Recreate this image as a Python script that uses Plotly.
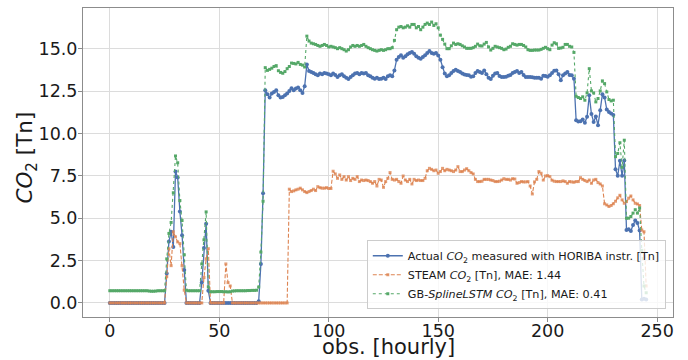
import plotly.graph_objects as go

obs = list(range(246))

actual_co2 = [
    0, 0, 0, 0, 0, 0, 0, 0, 0, 0,
    0, 0, 0, 0, 0, 0, 0, 0, 0, 0,
    0, 0, 0, 0, 0, 0, 1.73, 3.63, 4.2, 3.3,
    7.75, 7.4, 5.4, 4.0, 1.95, 0, 0, 0, 0, 0,
    0, 0, 1.2, 3.24, 4.67, 0.72, 0, 0, 0, 0,
    0, 0, 0, 0, 0, 0, 0, 0, 0, 0,
    0, 0, 0, 0, 0, 0, 0, 0, 0.1, 2.3,
    6.47, 12.55, 12.31, 12.12, 12.35, 12.45, 12.55, 12.25, 12.12, 12.15,
    12.25, 12.35, 12.5, 12.67, 12.55, 12.65, 12.71, 12.55, 12.39, 12.78,
    14.06, 13.68, 13.63, 13.57, 13.49, 13.43, 13.53, 13.49, 13.57, 13.53,
    13.49, 13.43, 13.53, 13.45, 13.33, 13.43, 13.49, 13.37, 13.29, 13.21,
    13.33, 13.43, 13.53, 13.57, 13.49, 13.57, 13.53, 13.57, 13.43, 13.37,
    13.29, 13.23, 13.29, 13.21, 13.23, 13.29, 13.21, 13.37, 13.43, 13.37,
    13.72, 14.35, 14.51, 14.61, 14.47, 14.55, 14.67, 14.74, 14.8, 14.7,
    14.55, 14.47, 14.41, 14.51, 14.61, 14.74, 14.86, 14.74, 14.7, 14.74,
    14.6, 14.35, 13.9, 13.53, 13.37, 13.43, 13.57, 13.69, 13.76, 13.69,
    13.63, 13.53, 13.47, 13.45, 13.43, 13.35, 13.37, 13.57, 13.69, 13.63,
    13.57, 13.72, 13.49, 13.29, 13.21, 13.41, 13.53, 13.57, 13.39, 13.33,
    13.33, 13.35, 13.41, 13.45, 13.57, 13.63, 13.69, 13.57, 13.63, 13.45,
    13.33, 13.33, 13.33, 13.31, 13.29, 13.29, 13.29, 13.23, 13.41, 13.39,
    13.35, 13.43, 13.57, 13.7, 13.72, 13.49, 13.14, 13.43, 13.53, 13.63,
    13.45, 13.43, 13.23, 10.78, 10.7, 10.72, 10.82, 10.63, 10.98, 12.25,
    11.14, 10.68, 11.0, 10.49, 11.37, 12.31, 12.12, 11.41, 11.27, 11.17,
    11.08, 7.88, 7.5, 8.39, 7.5, 8.4, 4.31, 4.35, 4.25, 4.6,
    4.86, 4.72, 4.27, 0.2, 0.25, 0.2,
]

steam_co2 = [
    0, 0, 0, 0, 0, 0, 0, 0, 0, 0,
    0, 0, 0, 0, 0, 0, 0, 0, 0, 0,
    0, 0, 0, 0, 0, 0, 1.55, 3.2, 2.2, 4.2,
    3.9, 3.6, 3.5, 2.2, 0.75, 0, 0, 0, 0, 0,
    0, 0, 0, 1.5, 2.6, 3.2, 0, 0, 0, 0,
    0, 0, 0, 2.3, 1.2, 1.0, 0, 0, 0, 0,
    0, 0, 0, 0, 0, 0, 0, 0, 0, 0,
    0, 0, 0, 0, 0, 0, 0, 0, 0, 0,
    0, 0, 6.71, 6.57, 6.61, 6.67, 6.71, 6.77, 6.67, 6.57,
    6.51, 6.57, 6.63, 6.71, 6.63, 6.86, 6.80, 6.77, 6.77, 6.80,
    6.75, 6.75, 7.77, 7.61, 7.35, 7.55, 7.29, 7.45, 7.25, 7.45,
    7.22, 7.35, 7.29, 7.45, 7.16, 7.25, 7.22, 7.25, 7.22, 7.16,
    7.06, 7.16, 6.90, 7.29, 7.25, 6.82, 7.16, 7.35, 7.69, 7.29,
    7.25, 7.29, 7.16, 7.06, 7.49, 7.25, 7.16, 7.29, 7.02, 7.29,
    7.22, 7.25, 7.22, 7.22, 7.35, 7.80, 7.94, 7.88, 7.80, 7.84,
    7.65, 7.75, 7.94, 7.80, 7.88, 7.84, 7.80, 7.75, 7.84, 8.04,
    7.75, 7.75, 7.84, 7.92, 7.80, 7.69, 7.61, 7.29, 7.16, 7.16,
    7.18, 7.29, 7.29, 7.29, 7.25, 7.22, 7.16, 7.16, 7.18, 7.25,
    7.33, 7.29, 7.29, 7.25, 7.33, 7.31, 7.06, 7.10, 7.16, 7.14,
    7.14, 7.16, 6.90, 6.43, 7.14, 7.29, 7.75, 7.65, 7.25, 7.49,
    7.51, 7.45, 7.24, 7.18, 7.16, 7.16, 7.16, 7.20, 7.16, 7.06,
    7.16, 7.14, 7.12, 7.16, 7.16, 7.39, 7.29, 7.22, 7.16, 7.25,
    7.06, 7.25, 7.29, 7.10, 7.02, 6.9, 5.85, 5.78, 5.69, 5.75,
    5.85, 6.0, 6.2, 6.35, 6.08, 5.88, 5.98, 6.18, 6.31, 6.08,
    5.88, 5.84, 5.75, 4.3, 4.2, 1.0,
]

gb_spline_lstm_co2 = [
    0.72, 0.72, 0.72, 0.72, 0.72, 0.72, 0.72, 0.72, 0.72, 0.72,
    0.72, 0.72, 0.72, 0.72, 0.72, 0.72, 0.72, 0.72, 0.7, 0.69,
    0.69, 0.7, 0.72, 0.72, 0.72, 0.72, 2.6, 4.1, 4.75, 6.5,
    8.67, 8.27, 6.04, 4.86, 2.84, 0.75, 0.72, 0.72, 0.72, 0.72,
    0.72, 0.72, 2.3, 3.72, 5.37, 0.95, 0.66, 0.66, 0.66, 0.67,
    0.67, 0.67, 0.66, 0.66, 0.65, 0.66, 0.7, 0.71, 0.72, 0.72,
    0.72, 0.72, 0.72, 0.73, 0.73, 0.74, 0.74, 0.75, 0.94, 3.0,
    6.0, 13.88, 13.72, 13.78, 13.85, 13.95, 14.0, 13.7, 13.6, 13.55,
    13.65, 13.82, 13.95, 14.15, 14.13, 14.1, 14.19, 14.07, 14.03, 13.92,
    15.74, 15.45, 15.33, 15.29, 15.25, 15.19, 15.14, 15.19, 15.25, 15.19,
    15.1, 15.14, 15.1, 15.06, 15.0, 15.06, 15.0, 14.94, 14.86, 14.94,
    15.1, 15.19, 15.14, 15.19, 15.14, 15.19, 15.25, 15.14, 15.06, 15.0,
    14.94, 14.9, 14.86, 14.9, 14.94, 14.9, 14.94, 15.0, 15.0, 15.06,
    15.49, 16.12, 16.27, 16.31, 16.23, 16.27, 16.35, 16.27, 16.43, 16.43,
    16.23, 16.31, 16.12, 16.27, 16.43, 16.51, 16.43, 16.57, 16.37, 16.47,
    16.23, 15.8, 15.55, 15.27, 15.0, 15.0, 15.17, 15.33, 15.25, 15.29,
    15.25, 15.17, 15.1, 15.02, 15.02, 15.02, 15.06, 15.14, 15.27, 15.17,
    15.16, 15.27, 15.37, 15.1, 14.92, 15.02, 15.14, 15.1, 15.06, 15.02,
    14.94, 14.98, 15.08, 15.14, 15.29, 15.25, 15.21, 15.25, 15.25, 15.19,
    15.1, 14.94, 14.9, 14.9, 14.92, 14.92, 14.92, 14.96, 15.02, 15.08,
    15.0, 14.94, 15.21, 15.35, 15.29, 15.02, 15.04, 15.08, 15.25, 15.25,
    15.14, 15.1, 14.78, 12.19, 12.12, 12.06, 12.16, 11.96, 12.39, 13.82,
    12.51, 12.39, 11.86, 12.06, 12.51, 13.1, 12.94, 12.45, 12.0, 11.92,
    11.96, 8.63, 8.82, 9.45, 8.0, 9.6, 5.0, 5.0, 5.1, 5.3,
    5.5, 5.3, 5.6, 3.1, 1.0, 0.6,
]

x_ticks = [0, 50, 100, 150, 200, 250]
y_ticks = [0.0, 2.5, 5.0, 7.5, 10.0, 12.5, 15.0]
y_tick_labels = ["0.0", "2.5", "5.0", "7.5", "10.0", "12.5", "15.0"]

names = [
    "Actual <i>CO</i><sub>2</sub> measured with HORIBA instr. [Tn]",
    "STEAM <i>CO</i><sub>2</sub> [Tn], MAE: 1.44",
    "GB-<i>SplineLSTM</i> <i>CO</i><sub>2</sub> [Tn], MAE: 0.41",
]
x_title = "obs. [hourly]"
y_title = "<i>CO</i><sub>2</sub> [Tn]"

BLUE = "#4C72B0"
ORANGE = "#DD8452"
GREEN = "#55A868"
FONT = "DejaVu Sans"
TXT = "#1a1a1a"

fig = go.Figure()
fig.add_trace(go.Scatter(
    x=obs, y=actual_co2, name=names[0], mode="lines+markers",
    line=dict(color=BLUE, width=1.3),
    marker=dict(color=BLUE, size=4, symbol="circle"),
))
fig.add_trace(go.Scatter(
    x=obs, y=steam_co2, name=names[1], mode="lines+markers",
    line=dict(color=ORANGE, width=1.1, dash="4px,2px"),
    marker=dict(color=ORANGE, size=3, symbol="square", opacity=0.8),
))
fig.add_trace(go.Scatter(
    x=obs, y=gb_spline_lstm_co2, name=names[2], mode="lines+markers",
    line=dict(color=GREEN, width=1.1, dash="dot"),
    marker=dict(color=GREEN, size=3, symbol="square"),
))

fig.update_layout(
    width=688, height=360,
    margin=dict(l=83, r=15, t=8, b=43),
    paper_bgcolor="white", plot_bgcolor="white",
    font=dict(family=FONT, color=TXT),
    showlegend=True,
    legend=dict(
        x=0.481, y=0.025, xanchor="left", yanchor="bottom",
        bgcolor="rgba(255,255,255,0.8)", bordercolor="#cccccc", borderwidth=1,
        font=dict(family=FONT, size=11.2, color=TXT),
        tracegroupgap=0,
    ),
    annotations=[
        dict(text=x_title, xref="paper", yref="paper", x=0.5186, y=-0.097,
             xanchor="center", yanchor="middle", showarrow=False,
             font=dict(size=21, family=FONT, color=TXT)),
        dict(text=y_title, xref="paper", yref="paper", x=-0.0949, y=0.516,
             xanchor="center", yanchor="middle", showarrow=False, textangle=-90,
             font=dict(size=21.5, family=FONT, color=TXT)),
    ],
)
fig.update_xaxes(
    range=[-12.25, 257.25], tickvals=x_ticks, ticktext=[str(t) for t in x_ticks],
    showgrid=True, gridcolor="#dcdcdc", gridwidth=1, zeroline=False,
    showline=True, linecolor="#8c8c8c", linewidth=1, mirror=True,
    ticks="outside", ticklen=4, tickcolor="#8c8c8c",
    ticklabelstandoff=-6,
    tickfont=dict(size=17.5, family=FONT, color=TXT),
    automargin=False,
)
fig.update_yaxes(
    range=[-0.83, 17.4], tickvals=y_ticks, ticktext=y_tick_labels,
    showgrid=True, gridcolor="#dcdcdc", gridwidth=1, zeroline=False,
    showline=True, linecolor="#8c8c8c", linewidth=1, mirror=True,
    ticks="outside", ticklen=4, tickcolor="#8c8c8c",
    ticklabelstandoff=-3,
    tickfont=dict(size=17.5, family=FONT, color=TXT),
    automargin=False,
)

fig.write_html("out.html", config={"displayModeBar": False},
               post_script="document.body.style.margin='0px';")
